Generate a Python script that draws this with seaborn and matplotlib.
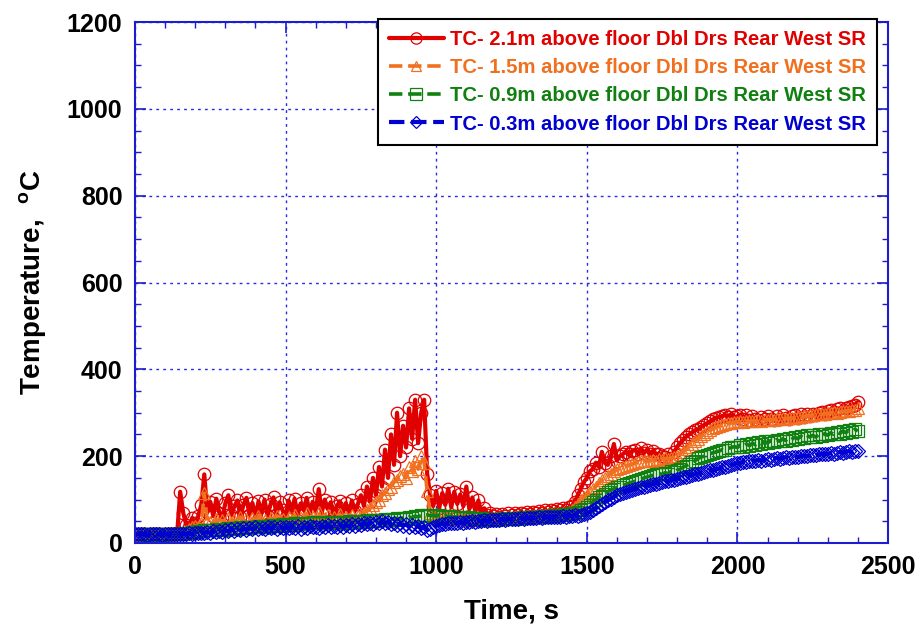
import numpy as np
import pandas as pd
import matplotlib as mpl
import matplotlib.pyplot as plt
import seaborn as sns

mpl.use('Agg')

# time axis, one reading every 10 s
time_s = list(range(0, 2410, 10))

tc_21m = [20, 19, 20, 21, 20, 19, 20, 20, 21, 20, 19, 20, 21, 20, 22,
          118, 70, 42, 38, 58, 45, 62, 88, 158, 72,
          95, 62, 102, 70, 58, 92, 110, 64, 85, 98, 60, 88, 104, 65, 92, 57, 96, 70, 100, 62, 89, 105, 66, 94, 75,
          60, 98, 74, 102, 64, 91, 76, 104, 68, 95, 73, 124, 70, 100, 78, 94, 60, 85, 96, 70, 92, 66, 98, 74, 90,
          110, 85, 130, 95, 150, 110, 175, 130, 215, 150, 250, 180, 300, 200, 270, 220, 310, 240, 330, 230, 300, 330, 160, 110, 85,
          120, 80, 115, 88, 125, 82, 118, 90, 112, 85, 130, 78, 105, 72, 98, 68, 80, 64, 70, 62, 66, 61, 67, 63, 68,
          64, 69, 65, 70, 66, 71, 67, 72, 68, 73, 70, 75, 71, 76, 73, 78, 75, 80, 77, 82, 85, 95, 110, 125, 140,
          150, 165, 170, 185, 175, 210, 185, 180, 200, 228, 190, 200, 205, 210, 204, 212, 215, 206, 218, 208, 215, 206, 212, 204, 205,
          200, 198, 205, 196, 210, 222, 230, 238, 245, 250, 255, 260, 262, 268, 272, 276, 280, 285, 288, 290, 292, 295, 290, 296, 290,
          292, 295, 286, 294, 284, 292, 286, 283, 291, 285, 293, 286, 284, 292, 286, 294, 287, 285, 293, 295, 288, 296, 290, 297, 292,
          298, 294, 300, 302, 297, 304, 306, 301, 308, 310, 305, 312, 314, 316, 318, 325]

tc_15m = [20, 20, 19, 20, 21, 20, 20, 19, 20, 21, 20, 20, 19, 20, 21,
          22, 24, 28, 32, 36, 40, 38, 45, 115, 50,
          48, 40, 55, 44, 52, 38, 58, 45, 53, 42, 60, 47, 55, 40, 57, 44, 62, 48, 54, 43, 58, 46, 63, 50, 56,
          45, 60, 50, 65, 48, 57, 52, 68, 47, 61, 53, 72, 51, 58, 64, 48, 59, 53, 66, 50, 60, 55, 64, 56, 62,
          65, 70, 75, 80, 88, 95, 100, 110, 115, 125, 130, 140, 145, 155, 160, 150, 175, 165, 190, 170, 200, 185, 120, 70, 60,
          62, 55, 65, 58, 63, 56, 64, 57, 60, 55, 62, 54, 58, 53, 56, 55, 57, 54, 56, 55, 57, 56, 58, 57, 59,
          58, 60, 59, 61, 60, 62, 61, 63, 62, 64, 63, 65, 64, 66, 65, 67, 66, 68, 70, 72, 76, 82, 90, 98, 105,
          110, 118, 125, 130, 138, 145, 150, 155, 160, 165, 170, 172, 175, 178, 180, 182, 185, 186, 188, 190, 188, 190, 192, 190, 193,
          192, 195, 194, 196, 198, 200, 205, 210, 216, 222, 228, 235, 240, 246, 250, 255, 260, 264, 268, 270, 272, 274, 276, 277, 278,
          278, 280, 279, 281, 280, 282, 281, 283, 282, 284, 283, 285, 284, 286, 285, 287, 286, 288, 287, 289, 290, 291, 292, 293, 294,
          295, 296, 297, 296, 298, 299, 300, 301, 300, 302, 303, 304, 305, 306, 307, 310]

tc_09m = [20, 21, 20, 20, 19, 20, 21, 20, 20, 19, 20, 21, 20, 20, 21,
          21, 22, 22, 24, 25, 26, 27, 28, 30, 30,
          31, 29, 32, 30, 33, 31, 34, 32, 35, 33, 36, 34, 37, 35, 38, 36, 39, 37, 40, 38, 41, 39, 42, 40, 43,
          41, 44, 42, 45, 43, 46, 44, 47, 45, 48, 46, 47, 45, 48, 46, 49, 47, 48, 46, 49, 47, 50, 48, 51, 49,
          50, 48, 52, 50, 53, 51, 54, 52, 55, 53, 56, 54, 57, 55, 58, 56, 60, 58, 62, 60, 64, 62, 65, 63, 64,
          62, 64, 61, 63, 60, 62, 59, 61, 58, 60, 57, 59, 56, 58, 55, 57, 54, 56, 53, 55, 54, 56, 55, 57, 56,
          57, 56, 58, 57, 59, 58, 60, 59, 61, 60, 62, 61, 63, 62, 64, 63, 65, 64, 66, 66, 68, 70, 72, 75, 78,
          82, 88, 95, 100, 105, 108, 112, 118, 122, 125, 128, 130, 133, 135, 138, 140, 142, 145, 147, 150, 152, 154, 156, 158, 160,
          158, 162, 160, 165, 163, 168, 170, 175, 178, 182, 186, 190, 195, 198, 200, 203, 206, 208, 210, 212, 215, 214, 218, 220, 222,
          220, 226, 222, 228, 224, 230, 226, 232, 228, 234, 230, 236, 232, 238, 234, 240, 236, 242, 238, 244, 240, 246, 242, 248, 244,
          248, 244, 250, 246, 252, 248, 254, 250, 256, 252, 258, 254, 260, 256, 262, 258]

tc_03m = [20, 20, 21, 20, 19, 20, 20, 21, 20, 19, 20, 20, 21, 20, 20,
          20, 21, 20, 22, 21, 23, 22, 24, 23, 25,
          24, 27, 25, 28, 26, 30, 27, 32, 28, 33, 30, 34, 31, 35, 32, 36, 33, 35, 32, 36, 34, 37, 33, 38, 35,
          36, 34, 38, 35, 39, 33, 37, 35, 40, 36, 38, 34, 39, 37, 41, 36, 40, 38, 42, 37, 41, 39, 43, 40, 44,
          42, 45, 43, 47, 44, 48, 45, 50, 46, 49, 44, 47, 42, 45, 40, 43, 38, 42, 36, 40, 35, 38, 30, 32, 36,
          40, 42, 44, 43, 46, 45, 47, 46, 48, 47, 49, 48, 50, 49, 51, 50, 52, 51, 53, 52, 54, 53, 55, 54, 56,
          55, 56, 55, 57, 56, 58, 57, 58, 57, 59, 58, 60, 59, 60, 59, 61, 60, 62, 61, 63, 62, 64, 63, 65, 66,
          68, 72, 76, 80, 85, 90, 94, 98, 102, 106, 110, 112, 115, 118, 120, 122, 124, 126, 128, 130, 132, 134, 135, 137, 138,
          140, 142, 143, 145, 146, 148, 150, 152, 153, 155, 157, 158, 160, 162, 163, 165, 167, 168, 170, 172, 174, 176, 178, 180, 182,
          184, 185, 187, 186, 188, 189, 190, 191, 190, 192, 193, 192, 194, 195, 194, 196, 197, 196, 198, 199, 198, 200, 201, 200, 202,
          203, 202, 204, 205, 204, 206, 207, 206, 208, 209, 208, 210, 211, 210, 212, 212]

labels = ["TC- 2.1m above floor Dbl Drs Rear West SR",
          "TC- 1.5m above floor Dbl Drs Rear West SR",
          "TC- 0.9m above floor Dbl Drs Rear West SR",
          "TC- 0.3m above floor Dbl Drs Rear West SR"]

sns.set_style("ticks")
plt.rcParams['font.family'] = ['Liberation Sans', 'DejaVu Sans']
plt.rcParams['font.weight'] = 'bold'
plt.rcParams['text.color'] = 'black'
plt.rcParams['axes.labelcolor'] = 'black'
plt.rcParams['mathtext.fontset'] = 'custom'
plt.rcParams['mathtext.rm'] = 'Liberation Sans:bold'
plt.rcParams['mathtext.bf'] = 'Liberation Sans:bold'

fig = plt.figure(figsize=(9.24, 6.39), dpi=100)
ax = fig.add_axes([135 / 924, 1 - 543 / 639, 753 / 924, 521 / 639])

styles = [
    dict(color='#e00000', lw=3.0, marker='o', ms=9, dashes=None),
    dict(color='#f07020', lw=2.6, marker='^', ms=8, dashes=(3, 2)),
    dict(color='#108010', lw=2.6, marker='s', ms=9, dashes=(5, 2.5)),
    dict(color='#0000d0', lw=3.0, marker='D', ms=7, dashes=(2.5, 1.5)),
]
series = [tc_21m, tc_15m, tc_09m, tc_03m]

for vals, lab, st in zip(series, labels, styles):
    kw = dict(color=st['color'], linewidth=st['lw'], marker=st['marker'],
              markersize=st['ms'], markerfacecolor='none',
              markeredgecolor=st['color'], markeredgewidth=0.9,
              markevery=1, label=lab)
    if st['dashes'] is not None:
        kw['linestyle'] = '--'
        kw['dashes'] = st['dashes']
    sns.lineplot(x=time_s, y=vals, ax=ax, **kw)

ax.set_xlim(0, 2500)
ax.set_ylim(0, 1200)
ax.set_xticks(range(0, 2501, 500))
ax.set_yticks(range(0, 1201, 200))
ax.xaxis.set_minor_locator(mpl.ticker.MultipleLocator(100))
ax.yaxis.set_minor_locator(mpl.ticker.MultipleLocator(50))
ax.grid(True, which='major', color='#2a2ae0', linestyle=(0, (2, 3)), linewidth=1.0)
ax.set_axisbelow(True)

axis_blue = '#1c1cd0'
for sp in ax.spines.values():
    sp.set_color(axis_blue)
    sp.set_linewidth(1.5)
    sp.set_visible(True)
ax.tick_params(which='both', direction='in', top=True, right=True,
               color=axis_blue, labelcolor='black', labelsize=18, pad=9)
ax.tick_params(which='major', length=8, width=1.2)
ax.tick_params(which='minor', length=4, width=1.0)
for t in ax.get_xticklabels() + ax.get_yticklabels():
    t.set_fontweight('bold')

ax.set_xlabel("Time, s", fontsize=20, fontweight='bold', labelpad=14)
ax.set_ylabel(r"Temperature,  $^{\mathbf{o}}$C", fontsize=20, fontweight='bold', labelpad=13)

leg = ax.legend(loc='upper right', bbox_to_anchor=(877 / 924, 1 - 19 / 639),
                bbox_transform=fig.transFigure, borderaxespad=0,
                frameon=True, fancybox=False,
                framealpha=1, edgecolor='black', handlelength=2.7,
                handletextpad=0.3, labelspacing=0.45, borderpad=0.55,
                numpoints=1, markerscale=0.9, labelcolor='linecolor',
                prop={'weight': 'bold', 'size': 14.6})
leg.get_frame().set_linewidth(1.5)

fig.savefig("out.png", dpi=100)
